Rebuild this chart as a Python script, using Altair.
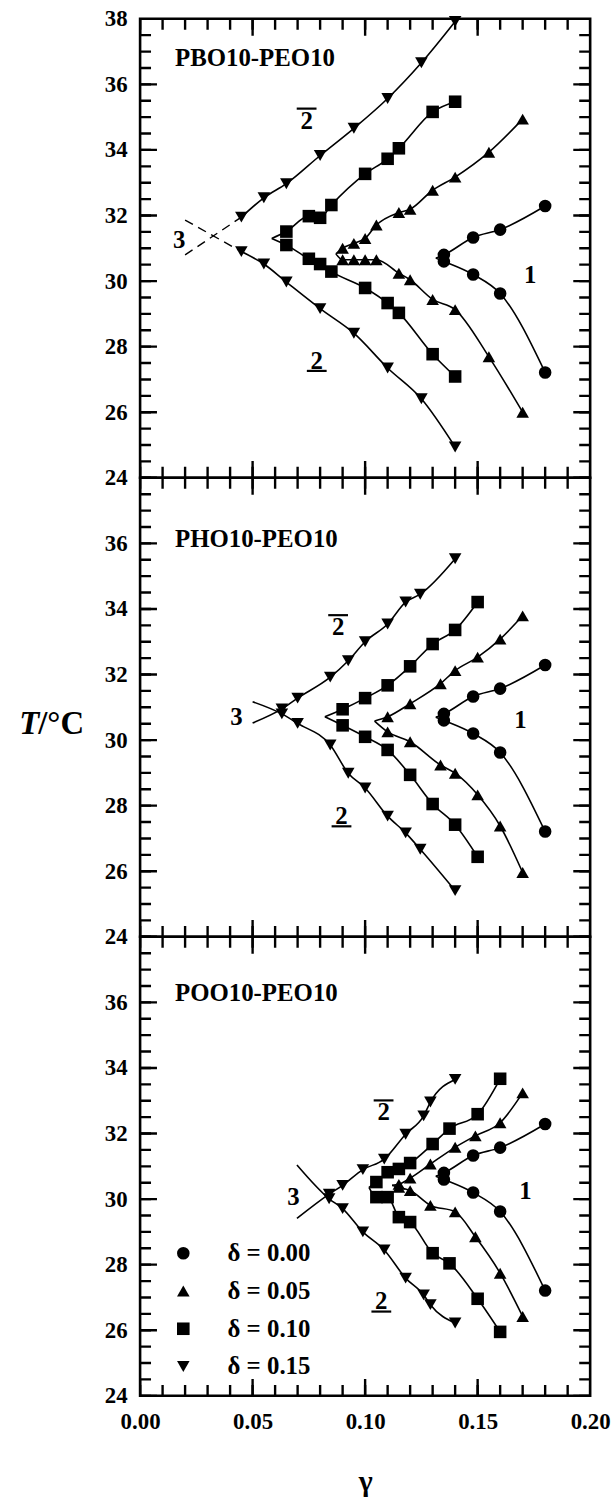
import altair as alt
import pandas as pd

SERIF = "Liberation Serif"
PANELS = ["PBO10-PEO10", "PHO10-PEO10", "POO10-PEO10"]
DELTAS = ["δ = 0.00", "δ = 0.05", "δ = 0.10", "δ = 0.15"]
SHAPES = ["circle", "triangle-up", "square", "triangle-down"]

# axis tick values
X_LABELS = [0.00, 0.05, 0.10, 0.15, 0.20]
X_MINOR = [0.00, 0.01, 0.02, 0.03, 0.04, 0.05, 0.06, 0.07, 0.08, 0.09, 0.10,
           0.11, 0.12, 0.13, 0.14, 0.15, 0.16, 0.17, 0.18, 0.19, 0.20]
Y_LABELS_TOP = [24, 26, 28, 30, 32, 34, 36, 38]
Y_LABELS = [24, 26, 28, 30, 32, 34, 36]
Y_MINOR = [24.0, 24.5, 25.0, 25.5, 26.0, 26.5, 27.0, 27.5, 28.0, 28.5, 29.0,
           29.5, 30.0, 30.5, 31.0, 31.5, 32.0, 32.5, 33.0, 33.5, 34.0, 34.5,
           35.0, 35.5, 36.0, 36.5, 37.0, 37.5, 38.0]

# δ = 0.00: no second block copolymer, identical in all three panels
G_D00 = [0.135, 0.148, 0.160, 0.180]
T_D00_UP = [30.80, 31.33, 31.57, 32.29]
T_D00_LO = [30.60, 30.20, 29.62, 27.21]
TIP_D00 = (0.1314, 30.70)

# PBO10-PEO10
PBO_G05 = [0.090, 0.095, 0.100, 0.105, 0.115, 0.120, 0.130, 0.140, 0.155, 0.170]
PBO_T05_UP = [31.00, 31.15, 31.30, 31.71, 32.09, 32.19, 32.77, 33.17, 33.93, 34.94]
PBO_T05_LO = [30.65, 30.65, 30.65, 30.65, 30.24, 30.04, 29.44, 29.13, 27.69, 26.00]
PBO_TIP05 = (0.087, 30.83)
PBO_G10 = [0.065, 0.075, 0.080, 0.085, 0.100, 0.110, 0.115, 0.130, 0.140]
PBO_T10_UP = [31.51, 31.98, 31.93, 32.32, 33.27, 33.73, 34.05, 35.16, 35.47]
PBO_T10_LO = [31.10, 30.68, 30.52, 30.29, 29.79, 29.33, 29.03, 27.77, 27.09]
PBO_TIP10 = (0.0585, 31.30)
PBO_G15 = [0.045, 0.055, 0.065, 0.080, 0.095, 0.110, 0.125, 0.140]
PBO_T15_UP = [31.95, 32.54, 32.97, 33.83, 34.66, 35.57, 36.66, 37.92]
PBO_T15_LO = [30.90, 30.52, 29.97, 29.16, 28.41, 27.35, 26.41, 24.94]
PBO_EXT15_UP = (0.020, 30.80)   # dashed extrapolation towards point 3
PBO_EXT15_LO = (0.020, 31.86)

# PHO10-PEO10
PHO_G05 = [0.110, 0.120, 0.1335, 0.140, 0.150, 0.160, 0.170]
PHO_T05_UP = [30.71, 31.11, 31.72, 32.12, 32.53, 33.08, 33.79]
PHO_T05_LO = [30.25, 29.95, 29.24, 28.99, 28.33, 27.38, 25.96]
PHO_TIP05 = (0.1042, 30.58)
PHO_G10 = [0.090, 0.100, 0.110, 0.120, 0.130, 0.140, 0.150]
PHO_T10_UP = [30.94, 31.28, 31.67, 32.25, 32.93, 33.36, 34.21]
PHO_T10_LO = [30.45, 30.10, 29.70, 28.94, 28.05, 27.42, 26.44]
PHO_TIP10 = (0.0821, 30.71)
PHO_G15 = [0.063, 0.070, 0.0845, 0.0925, 0.100, 0.110, 0.118, 0.1245, 0.140]
PHO_T15_UP = [30.95, 31.28, 31.92, 32.42, 33.00, 33.54, 34.21, 34.45, 35.53]
PHO_T15_LO = [30.80, 30.51, 29.85, 28.99, 28.54, 27.68, 27.17, 26.67, 25.41]
PHO_EXT15_UP = (0.050, 30.52)
PHO_EXT15_LO = (0.050, 31.17)

# POO10-PEO10
POO_G05 = [0.115, 0.120, 0.129, 0.140, 0.149, 0.160, 0.170]
POO_T05_UP = [30.45, 30.64, 31.07, 31.58, 31.93, 32.33, 33.24]
POO_T05_LO = [30.36, 30.26, 29.81, 29.61, 28.85, 27.74, 26.42]
POO_TIP05 = (0.112, 30.42)
POO_G10 = [0.105, 0.110, 0.115, 0.120, 0.130, 0.1375, 0.150, 0.160]
POO_T10_UP = [30.52, 30.82, 30.92, 31.10, 31.68, 32.15, 32.59, 33.67]
POO_T10_LO = [30.06, 30.06, 29.45, 29.30, 28.35, 28.04, 26.96, 25.95]
POO_TIP10 = (0.1017, 30.36)
POO_G15 = [0.084, 0.090, 0.099, 0.1085, 0.118, 0.126, 0.129, 0.140]
POO_T15_UP = [30.15, 30.42, 30.90, 31.22, 31.98, 32.54, 32.96, 33.65]
POO_T15_LO = [30.01, 29.71, 29.00, 28.45, 27.59, 27.08, 26.78, 26.22]
POO_EXT15_UP = (0.0697, 29.41)
POO_EXT15_LO = (0.0697, 31.04)

# region labels (1, 2 overlined, 2 underlined, 3) and panel names
NOTE_TEXT = ["3", "2", "2", "1"]
NOTE_BAR = ["none", "over", "under", "none"]
PBO_NOTE_G = [0.0174, 0.0740, 0.0785, 0.1734]
PBO_NOTE_T = [31.25, 34.89, 27.57, 30.19]
PHO_NOTE_G = [0.0428, 0.0880, 0.0895, 0.1690]
PHO_NOTE_T = [30.71, 33.44, 27.68, 30.61]
POO_NOTE_G = [0.0681, 0.1082, 0.1072, 0.1712]
POO_NOTE_T = [30.06, 32.64, 26.88, 30.26]
NAME_G = [0.0155, 0.0155, 0.0155]
NAME_T = [36.79, 36.13, 36.27]

# ---------------------------------------------------------------- tables
point_rows, line_rows, dash_rows = [], [], []


def add_branches(panel, delta, g, t_up, t_lo, lead_up=None, lead_lo=None):
    for side, t, lead in (("up", t_up, lead_up), ("lo", t_lo, lead_lo)):
        sid = f"{panel} {delta} {side}"
        if lead is not None:
            line_rows.append(dict(panel=panel, series=sid, g=lead[0], T=lead[1]))
        for gi, ti in zip(g, t):
            point_rows.append(dict(panel=panel, delta=delta, g=gi, T=ti))
            line_rows.append(dict(panel=panel, series=sid, g=gi, T=ti))


for p in PANELS:
    add_branches(p, DELTAS[0], G_D00, T_D00_UP, T_D00_LO, TIP_D00, TIP_D00)

add_branches(PANELS[0], DELTAS[1], PBO_G05, PBO_T05_UP, PBO_T05_LO, PBO_TIP05, PBO_TIP05)
add_branches(PANELS[0], DELTAS[2], PBO_G10, PBO_T10_UP, PBO_T10_LO, PBO_TIP10, PBO_TIP10)
add_branches(PANELS[0], DELTAS[3], PBO_G15, PBO_T15_UP, PBO_T15_LO)
for sid, ext, g0, t0 in (("up", PBO_EXT15_UP, PBO_G15[0], PBO_T15_UP[0]),
                         ("lo", PBO_EXT15_LO, PBO_G15[0], PBO_T15_LO[0])):
    dash_rows.append(dict(panel=PANELS[0], series=sid, g=ext[0], T=ext[1]))
    dash_rows.append(dict(panel=PANELS[0], series=sid, g=g0, T=t0))

add_branches(PANELS[1], DELTAS[1], PHO_G05, PHO_T05_UP, PHO_T05_LO, PHO_TIP05, PHO_TIP05)
add_branches(PANELS[1], DELTAS[2], PHO_G10, PHO_T10_UP, PHO_T10_LO, PHO_TIP10, PHO_TIP10)
add_branches(PANELS[1], DELTAS[3], PHO_G15, PHO_T15_UP, PHO_T15_LO, PHO_EXT15_UP, PHO_EXT15_LO)

add_branches(PANELS[2], DELTAS[1], POO_G05, POO_T05_UP, POO_T05_LO, POO_TIP05, POO_TIP05)
add_branches(PANELS[2], DELTAS[2], POO_G10, POO_T10_UP, POO_T10_LO, POO_TIP10, POO_TIP10)
add_branches(PANELS[2], DELTAS[3], POO_G15, POO_T15_UP, POO_T15_LO, POO_EXT15_UP, POO_EXT15_LO)

POINTS = pd.DataFrame(point_rows)
LINES = pd.DataFrame(line_rows)
DASHES = pd.DataFrame(dash_rows)

note_rows, bar_rows = [], []
for p, gs, ts in ((PANELS[0], PBO_NOTE_G, PBO_NOTE_T),
                  (PANELS[1], PHO_NOTE_G, PHO_NOTE_T),
                  (PANELS[2], POO_NOTE_G, POO_NOTE_T)):
    for txt, bar, gi, ti in zip(NOTE_TEXT, NOTE_BAR, gs, ts):
        note_rows.append(dict(panel=p, label=txt, g=gi, T=ti))
        if bar != "none":
            shift = 0.37 if bar == "over" else -0.31
            bar_rows.append(dict(panel=p, g0=gi - 0.0044, g1=gi + 0.0044, Tb=ti + shift))
NOTES = pd.DataFrame(note_rows)
BARS = pd.DataFrame(bar_rows)
NAMES = pd.DataFrame(dict(panel=PANELS, label=PANELS, g=NAME_G, T=NAME_T))

X_MAJOR_DF = pd.DataFrame(dict(v=X_LABELS))
X_MINOR_DF = pd.DataFrame(dict(v=X_MINOR))
Y_MAJOR_DF = pd.DataFrame(dict(v=Y_LABELS_TOP))
Y_MINOR_DF = pd.DataFrame(dict(v=Y_MINOR))

# ---------------------------------------------------------------- chart
W, H = 453, 462
MAJOR, MINOR = 17, 11
TICK_W = 2.4
XS = alt.Scale(domain=[0.0, 0.2], nice=False, zero=False)
YS = alt.Scale(domain=[24, 38], nice=False, zero=False)


def frame_ticks():
    """Inward ticks on all four sides; each tick is centred on the frame
    and the outer half is clipped away by the view."""
    layers = []
    for df, length in ((X_MAJOR_DF, MAJOR), (X_MINOR_DF, MINOR)):
        for edge in (0, H):
            layers.append(
                alt.Chart(df).mark_tick(
                    orient="vertical", size=2 * length, thickness=TICK_W,
                    color="black", opacity=1, clip=True
                ).encode(x=alt.X("v:Q", scale=XS, axis=None), y=alt.value(edge))
            )
    for df, length in ((Y_MAJOR_DF, MAJOR), (Y_MINOR_DF, MINOR)):
        for edge in (0, W):
            layers.append(
                alt.Chart(df).mark_tick(
                    orient="horizontal", size=2 * length, thickness=TICK_W,
                    color="black", opacity=1, clip=True
                ).encode(y=alt.Y("v:Q", scale=YS, axis=None), x=alt.value(edge))
            )
    return layers


def panel(idx):
    name = PANELS[idx]
    first, middle, last = idx == 0, idx == 1, idx == 2

    x_axis = None
    if last:
        x_axis = alt.Axis(orient="bottom", values=X_LABELS, format=".2f",
                          ticks=False, domain=False, grid=False,
                          labelPadding=15, labelFlush=False,
                          title="γ", titleFontSize=30, titleY=95,
                          titleBaseline="alphabetic")
    left = dict(orient="left", values=Y_LABELS_TOP if first else Y_LABELS,
                format="d", ticks=False, domain=False, grid=False,
                labelPadding=13, title=None)
    if middle:
        left.update(title="T", titleFontStyle="italic", titleFontSize=33,
                    titleAngle=0, titleAlign="right", titleBaseline="alphabetic",
                    titleX=-102, titleY=257)
    y_axis = alt.Axis(**left)

    curves = alt.Chart(LINES[LINES.panel == name]).mark_line(
        color="black", strokeWidth=1.6, interpolate="monotone"
    ).encode(
        x=alt.X("g:Q", scale=XS, axis=x_axis),
        y=alt.Y("T:Q", scale=YS, axis=y_axis),
        detail="series:N",
        order="g:Q",
    )

    unit_axis = None
    if middle:
        unit_axis = alt.Axis(orient="left", values=Y_LABELS, labels=False,
                             ticks=False, domain=False, grid=False,
                             title="/°C", titleFontSize=33, titleAngle=0,
                             titleAlign="left", titleBaseline="alphabetic",
                             titleX=-103, titleY=257)

    legend = None
    if last:
        legend = alt.Legend(
            title=None, orient="none", legendX=31, legendY=306, padding=0,
            labelFont=SERIF, labelFontWeight="bold", labelFontSize=25,
            labelColor="black", labelOffset=32, rowPadding=12,
            symbolFillColor="black", symbolStrokeColor="black", symbolSize=160,
            symbolStrokeWidth=0,
        )
    markers = alt.Chart(POINTS[POINTS.panel == name]).mark_point(
        filled=True, size=160, color="black", opacity=1
    ).encode(
        x=alt.X("g:Q", scale=XS, axis=None),
        y=alt.Y("T:Q", scale=YS, axis=unit_axis),
        shape=alt.Shape("delta:N", scale=alt.Scale(domain=DELTAS, range=SHAPES),
                        legend=legend),
    )

    notes = alt.Chart(NOTES[NOTES.panel == name]).mark_text(
        font=SERIF, fontWeight="bold", fontSize=25, color="black",
        align="center", baseline="middle"
    ).encode(
        x=alt.X("g:Q", scale=XS, axis=None),
        y=alt.Y("T:Q", scale=YS, axis=None),
        text="label:N",
    )

    title = alt.Chart(NAMES[NAMES.panel == name]).mark_text(
        font=SERIF, fontWeight="bold", fontSize=25, color="black",
        align="left", baseline="middle"
    ).encode(
        x=alt.X("g:Q", scale=XS, axis=None),
        y=alt.Y("T:Q", scale=YS, axis=None),
        text="label:N",
    )

    bars = alt.Chart(BARS[BARS.panel == name]).mark_rule(
        color="black", strokeWidth=2.2
    ).encode(
        x=alt.X("g0:Q", scale=XS, axis=None),
        x2="g1:Q",
        y=alt.Y("Tb:Q", scale=YS, axis=None),
    )

    layers = frame_ticks() + [curves]
    if first:
        dashed = alt.Chart(DASHES[DASHES.panel == name]).mark_line(
            color="black", strokeWidth=1.4, strokeDash=[9, 6]
        ).encode(
            x=alt.X("g:Q", scale=XS, axis=None),
            y=alt.Y("T:Q", scale=YS, axis=None),
            detail="series:N",
        )
        layers.append(dashed)
    layers += [markers, notes, title, bars]

    return alt.layer(*layers).resolve_axis(
        x="independent", y="independent"
    ).properties(width=W, height=H)


chart = alt.vconcat(panel(0), panel(1), panel(2), spacing=0, bounds="flush").resolve_scale(
    shape="independent"
).resolve_legend(
    shape="independent"
).properties(
    padding={"left": 17, "top": 1, "right": 3, "bottom": 5},
    background="white",
).configure_view(
    stroke="black", strokeWidth=2.6
).configure_axis(
    labelFont=SERIF, labelFontWeight="bold", labelFontSize=23, labelColor="black",
    titleFont=SERIF, titleFontWeight="bold", titleColor="black",
)

chart.save("out.html", embed_options={"renderer": "svg", "actions": False})
